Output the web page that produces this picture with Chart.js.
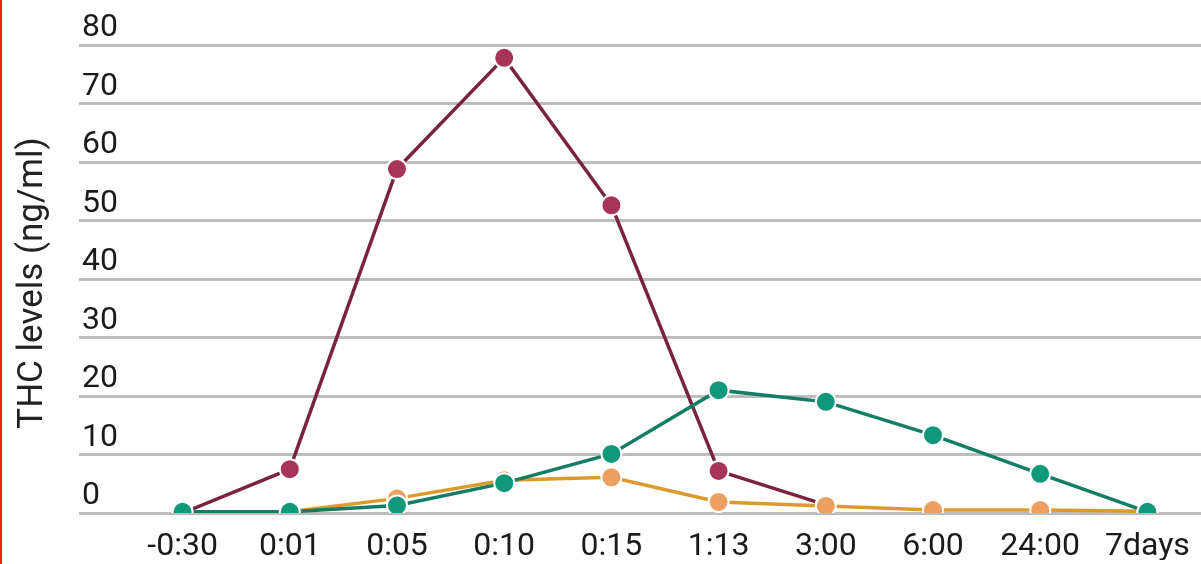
<!DOCTYPE html>
<html>
<head>
<meta charset="utf-8">
<script src="https://cdn.jsdelivr.net/npm/chart.js@4/dist/chart.umd.min.js"></script>
<style>
  html, body { margin: 0; padding: 0; background: #fff; }
  #wrap { position: relative; width: 1201px; height: 564px; }
  #redline { position: absolute; left: 0; top: 0; width: 2px; height: 564px; background: #ff1a1a; }
</style>
</head>
<body>
<div id="wrap">
  <canvas id="c" width="1201" height="564"></canvas>
  <div id="redline"></div>
</div>
<script>
const categories = ['-0:30', '0:01', '0:05', '0:10', '0:15', '1:13', '3:00', '6:00', '24:00', '7days'];
const seriesRed = [0, 7.5, 58.8, 77.8, 52.6, 7.2, 1.4, null, null, null];
const seriesOrange = [0, 0.2, 2.5, 5.6, 6.1, 1.9, 1.2, 0.5, 0.5, 0.3];
const seriesGreen = [0.2, 0.2, 1.3, 5.1, 10.1, 21.0, 19.0, 13.3, 6.7, 0.2];
const yTicks = [0, 10, 20, 30, 40, 50, 60, 70, 80];
const yTitle = 'THC levels (ng/ml)';

const yTitlePlugin = {
  id: 'yTitlePlugin',
  afterDraw(chart) {
    const ctx = chart.ctx;
    const area = chart.chartArea;
    ctx.save();
    ctx.translate(33, (area.top + area.bottom) / 2 + 4);
    ctx.rotate(-Math.PI / 2);
    ctx.font = '35px Roboto';
    ctx.fillStyle = '#222';
    ctx.textAlign = 'center';
    ctx.textBaseline = 'middle';
    ctx.fillText(yTitle, 0, 0);
    ctx.restore();
  }
};

const gridColor = '#bdbdbd';

new Chart(document.getElementById('c'), {
  type: 'line',
  data: {
    labels: categories,
    datasets: [
      {
        label: 'Smoking',
        data: seriesGreen,
        borderColor: '#147d63',
        backgroundColor: '#10987a',
        pointBackgroundColor: '#10987a',
        pointBorderColor: '#ffffff',
        pointBorderWidth: 2,
        pointRadius: 10,
        borderWidth: 3.5,
        order: 1
      },
      {
        label: 'Oral',
        data: seriesOrange,
        borderColor: '#dc9a2e',
        backgroundColor: '#eba062',
        pointBackgroundColor: '#eba062',
        pointBorderColor: '#ffffff',
        pointBorderWidth: 2,
        pointRadius: 10,
        borderWidth: 3.5,
        order: 2
      },
      {
        label: 'Vaping',
        data: seriesRed,
        borderColor: '#7a2340',
        backgroundColor: '#a8345a',
        pointBackgroundColor: '#a8345a',
        pointBorderColor: '#ffffff',
        pointBorderWidth: 2,
        pointRadius: 10,
        borderWidth: 3.5,
        order: 3
      }
    ]
  },
  options: {
    responsive: false,
    animation: false,
    layout: { autoPadding: false, padding: { left: 82, right: 0, top: 45, bottom: 4 } },
    plugins: {
      legend: { display: false },
      tooltip: { enabled: false }
    },
    scales: {
      x: {
        offset: true,
        grid: { display: false },
        border: { display: false },
        afterFit(scale) { scale.height = 47; scale.paddingLeft = 0; scale.paddingRight = 0; },
        ticks: {
          font: { family: 'Roboto', size: 32 },
          color: '#1a1a1a',
          padding: 7,
          maxRotation: 0,
          autoSkip: false
        }
      },
      y: {
        min: yTicks[0],
        max: yTicks[yTicks.length - 1],
        afterBuildTicks(scale) { scale.ticks = yTicks.map(v => ({ value: v })); },
        afterFit(scale) { scale.width = 47; scale.paddingTop = 0; scale.paddingBottom = 0; },
        grid: {
          color: gridColor,
          lineWidth: 3,
          drawTicks: true,
          tickLength: 50,
          tickColor: gridColor
        },
        border: { display: false },
        ticks: {
          crossAlign: 'far',
          labelOffset: -17,
          padding: 0,
          font: { family: 'Roboto', size: 32 },
          color: '#1a1a1a'
        }
      }
    }
  },
  plugins: [yTitlePlugin]
});
</script>
</body>
</html>
